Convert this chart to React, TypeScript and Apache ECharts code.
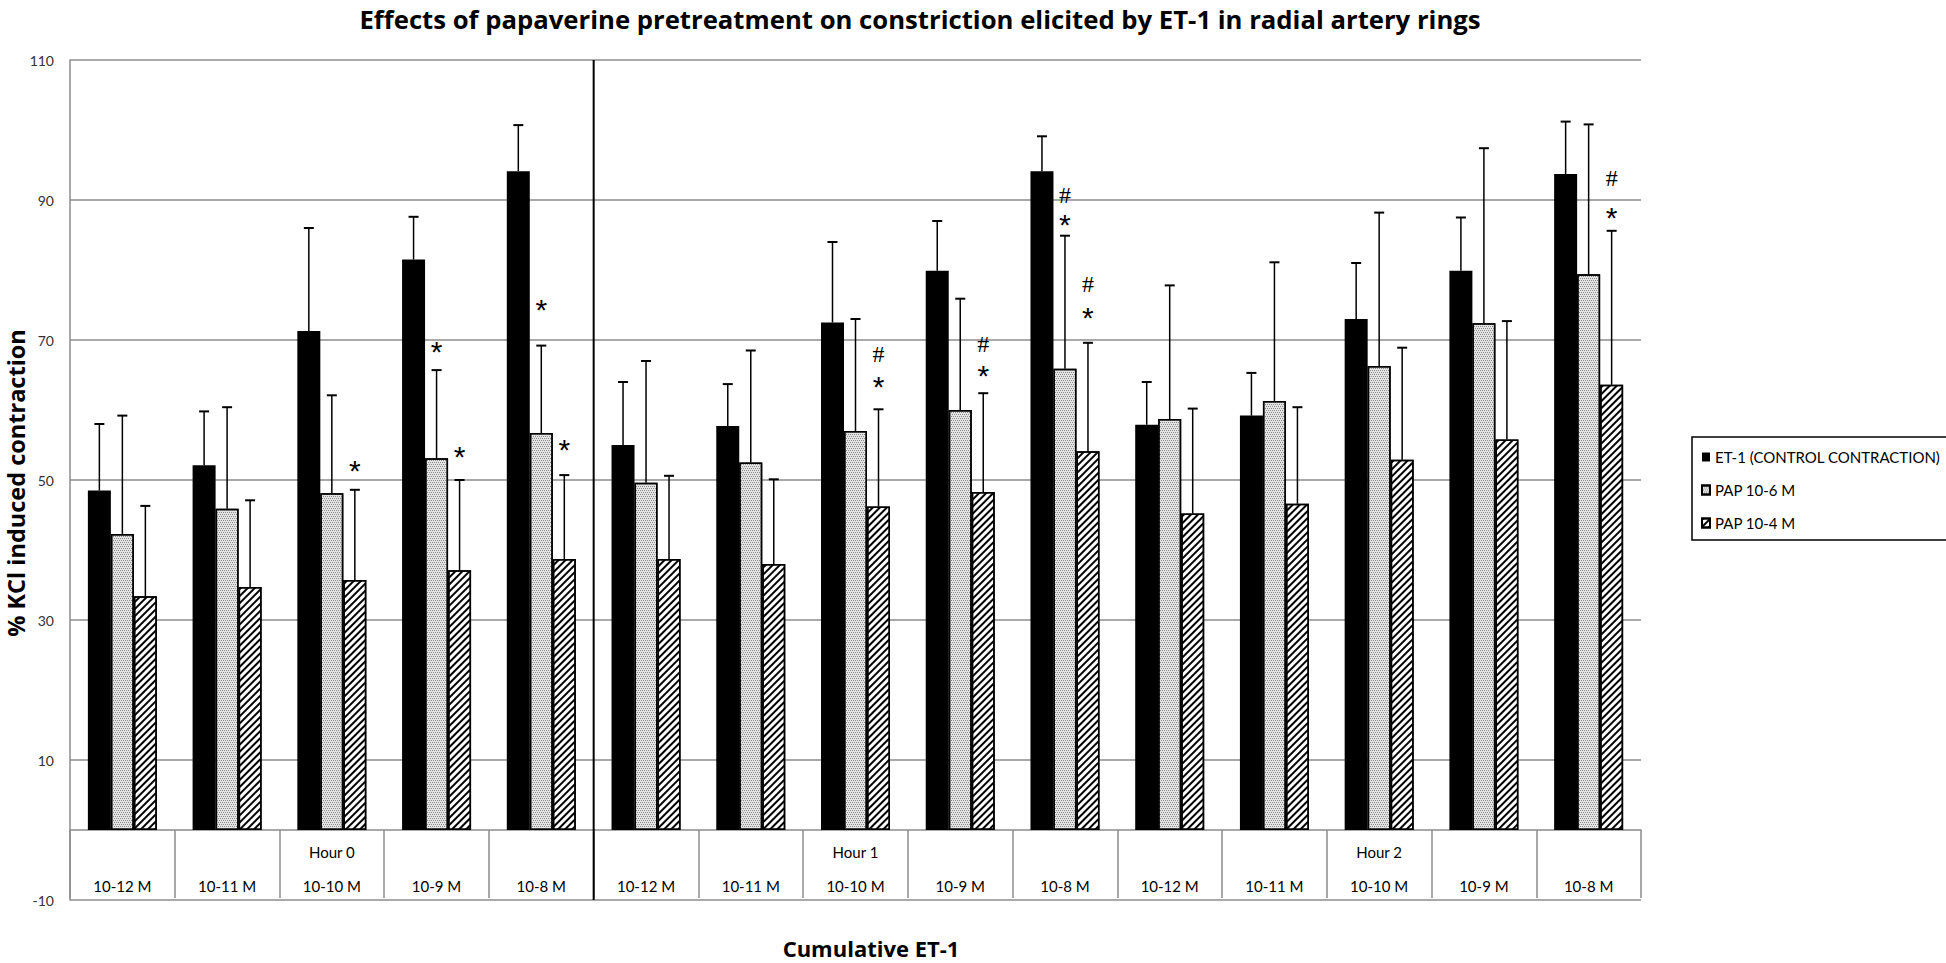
import React, { useEffect, useRef } from 'react';
import * as echarts from 'echarts';

// ---------- data ----------
const categories = [
  '10-12 M', '10-11 M', '10-10 M', '10-9 M', '10-8 M',
  '10-12 M', '10-11 M', '10-10 M', '10-9 M', '10-8 M',
  '10-12 M', '10-11 M', '10-10 M', '10-9 M', '10-8 M',
];
const hourLabels = ['', '', 'Hour 0', '', '', '', '', 'Hour 1', '', '', '', '', 'Hour 2', '', ''];
const hourBlockEnds = [4]; // index of last category before the black separator

const seriesNames = ['ET-1 (CONTROL CONTRACTION)', 'PAP 10-6 M', 'PAP 10-4 M'];

const et1Mean = [48.5, 52.1, 71.3, 81.5, 94.1, 55.0, 57.7, 72.5, 79.9, 94.1, 57.9, 59.2, 73.0, 79.9, 93.7];
const et1Upper = [58.0, 59.8, 86.0, 87.6, 100.7, 64.0, 63.7, 84.0, 87.0, 99.1, 64.0, 65.3, 81.0, 87.5, 101.2];
const pap6Mean = [42.3, 45.9, 48.1, 53.1, 56.7, 49.6, 52.5, 57.0, 60.0, 65.9, 58.7, 61.3, 66.3, 72.4, 79.4];
const pap6Upper = [59.2, 60.4, 62.1, 65.7, 69.2, 67.0, 68.5, 73.0, 75.9, 84.9, 77.8, 81.1, 88.2, 97.4, 100.8];
const pap4Mean = [33.4, 34.7, 35.7, 37.1, 38.7, 38.7, 38.0, 46.2, 48.3, 54.1, 45.2, 46.6, 52.9, 55.8, 63.6];
const pap4Upper = [46.3, 47.1, 48.6, 50.0, 50.7, 50.6, 50.1, 60.1, 62.4, 69.6, 60.2, 60.4, 68.9, 72.7, 85.6];

// significance marks: category index, series index, symbol, value level
const markCat = [2, 3, 3, 4, 4, 7, 7, 8, 8, 9, 9, 9, 9, 14, 14];
const markSeries = [2, 1, 2, 1, 2, 2, 2, 2, 2, 1, 1, 2, 2, 2, 2];
const markSymbol = ['*', '*', '*', '*', '*', '#', '*', '#', '*', '#', '*', '#', '*', '#', '*'];
const markLevel = [52.0, 69.0, 53.9, 74.9, 55.0, 68.0, 64.0, 69.5, 65.5, 90.7, 87.1, 78.0, 73.8, 93.1, 88.1];

const yTicksMin = -10;
const yTicksMax = 110;
const yTickStep = 20;

// ---------- styling ----------
const BAR_W = 23;
const GRID_GREY = '#8c8c8c';
const SANS = 'Lato, "Open Sans", sans-serif';
const BOLD_SANS = '"Open Sans", Lato, sans-serif';

export default function App() {
  const ref = useRef<HTMLDivElement>(null);

  useEffect(() => {
    if (!ref.current) return;
    const chart = echarts.init(ref.current, null, { renderer: 'svg' });

    const means = [et1Mean, pap6Mean, pap4Mean];
    const uppers = [et1Upper, pap6Upper, pap4Upper];

    const barStyles: any[] = [
      { color: '#000000' },
      {
        color: '#e4e4e4',
        borderColor: '#000',
        borderWidth: 1.5,
        decal: {
          symbol: 'rect',
          symbolSize: 1,
          color: '#8a8a8a',
          dashArrayX: [[1, 1], [0, 1, 1, 0]],
          dashArrayY: [1, 1],
          rotation: 0,
        },
      },
      {
        color: '#ffffff',
        borderColor: '#000',
        borderWidth: 1.5,
        decal: {
          symbol: 'rect',
          symbolSize: 1,
          color: '#000',
          dashArrayX: [1, 0],
          dashArrayY: [2, 3],
          rotation: -Math.PI / 4,
        },
      },
    ];

    const barSeries = seriesNames.map((name, i) => ({
      name,
      type: 'bar',
      barWidth: BAR_W,
      barGap: '0%',
      data: means[i],
      itemStyle: barStyles[i],
      z: 2,
    }));

    const errorSeries = seriesNames.map((name, i) => ({
      type: 'custom',
      name: name + ' error',
      z: 3,
      clip: false,
      silent: true,
      data: categories.map((_, c) => [c, means[i][c], uppers[i][c]]),
      renderItem: (params: any, api: any) => {
        const c = api.value(0);
        const p0 = api.coord([c, api.value(1)]);
        const p1 = api.coord([c, api.value(2)]);
        const x = p0[0] + (i - 1) * BAR_W;
        return {
          type: 'group',
          children: [
            { type: 'line', shape: { x1: x, y1: p0[1], x2: x, y2: p1[1] }, style: { stroke: '#000', lineWidth: 1.5 } },
            { type: 'line', shape: { x1: x - 5, y1: p1[1], x2: x + 5, y2: p1[1] }, style: { stroke: '#000', lineWidth: 2 } },
          ],
        };
      },
    }));

    const markSeriesDef = {
      type: 'custom',
      name: 'marks',
      z: 4,
      clip: false,
      silent: true,
      data: markCat.map((c, k) => [c, markLevel[k], markSeries[k]]),
      renderItem: (params: any, api: any) => {
        const c = api.value(0);
        const p = api.coord([c, api.value(1)]);
        const s = api.value(2);
        const sym = markSymbol[params.dataIndex];
        const isStar = sym === '*';
        return {
          type: 'text',
          style: {
            x: p[0] + (s - 1) * BAR_W,
            y: p[1] + (isStar ? 4 : 0),
            text: sym,
            textAlign: 'center',
            textVerticalAlign: 'middle',
            font: isStar ? '30px "Liberation Sans", sans-serif' : '24px "Liberation Serif", serif',
            fill: '#000',
          },
        };
      },
    };

    const separatorSeries = {
      type: 'custom',
      name: 'separator',
      z: 5,
      clip: false,
      silent: true,
      data: hourBlockEnds.map((c) => [c]),
      renderItem: (params: any, api: any) => {
        const c = api.value(0);
        const band = api.size([1, 0])[0];
        const top = api.coord([c, yTicksMax]);
        const bottom = api.coord([c, yTicksMin]);
        const x = top[0] + band / 2;
        return {
          type: 'line',
          shape: { x1: x, y1: top[1], x2: x, y2: bottom[1] },
          style: { stroke: '#000', lineWidth: 2 },
        };
      },
    };

    const tableLabelSeries = {
      type: 'custom',
      name: 'table labels',
      z: 6,
      clip: false,
      silent: true,
      data: categories.map((_, c) => [c, 0]),
      renderItem: (params: any, api: any) => {
        const c = api.value(0);
        const p = api.coord([c, 0]);
        const children: any[] = [
          {
            type: 'text',
            style: {
              x: p[0],
              y: p[1] + 56,
              text: categories[c],
              textAlign: 'center',
              textVerticalAlign: 'middle',
              font: '15px Lato, sans-serif',
              fill: '#000',
            },
          },
        ];
        if (hourLabels[c]) {
          children.push({
            type: 'text',
            style: {
              x: p[0],
              y: p[1] + 22,
              text: hourLabels[c],
              textAlign: 'center',
              textVerticalAlign: 'middle',
              font: '15px Lato, sans-serif',
              fill: '#000',
            },
          });
        }
        return { type: 'group', children };
      },
    };

    chart.setOption({
      animation: false,
      backgroundColor: '#ffffff',
      title: {
        text: 'Effects of papaverine pretreatment on constriction elicited by ET-1 in radial artery rings',
        left: 915,
        top: 1,
        textAlign: 'center',
        textStyle: { fontFamily: BOLD_SANS, fontWeight: 'bold', fontSize: 25.7, color: '#000' },
      },
      legend: {
        data: seriesNames,
        orient: 'vertical',
        left: 1692,
        top: 437,
        icon: 'rect',
        itemWidth: 8,
        itemHeight: 9,
        itemGap: 15,
        padding: [11, 10, 8, 9],
        borderColor: '#000',
        borderWidth: 1.5,
        backgroundColor: '#fff',
        textStyle: { fontFamily: SANS, fontSize: 15, color: '#000', lineHeight: 18 },
      },
      grid: { left: 70, right: 305, top: 60, bottom: 63, containLabel: false, outerBoundsMode: 'none' },
      xAxis: {
        type: 'category',
        data: categories,
        axisLine: { show: true, onZero: true, lineStyle: { color: GRID_GREY, width: 1.5 } },
        axisTick: { show: true, length: 68, lineStyle: { color: GRID_GREY, width: 1.5 } },
        axisLabel: { show: false },
      },
      yAxis: {
        type: 'value',
        min: yTicksMin,
        max: yTicksMax,
        interval: yTickStep,
        axisLine: { show: true, lineStyle: { color: GRID_GREY, width: 1.5 } },
        axisTick: { show: false },
        axisLabel: { margin: 16, fontFamily: SANS, fontSize: 14, color: '#333' },
        splitLine: { show: true, lineStyle: { color: GRID_GREY, width: 1.5 } },
      },
      graphic: [
        {
          type: 'text',
          x: 16,
          y: 483,
          rotation: Math.PI / 2,
          style: {
            text: '% KCl induced contraction',
            textAlign: 'center',
            textVerticalAlign: 'middle',
            font: 'bold 23.5px "Open Sans", Lato, sans-serif',
            fill: '#000',
          },
        },
        {
          type: 'text',
          x: 871,
          y: 948,
          style: {
            text: 'Cumulative ET-1',
            textAlign: 'center',
            textVerticalAlign: 'middle',
            font: 'bold 22px "Open Sans", Lato, sans-serif',
            fill: '#000',
          },
        },
      ],
      series: [...barSeries, ...errorSeries, markSeriesDef, separatorSeries, tableLabelSeries],
    });

    return () => chart.dispose();
  }, []);

  return (
    <div
      ref={ref}
      style={{ position: 'fixed', left: 0, top: 0, width: 1946, height: 963, background: '#fff' }}
    />
  );
}
